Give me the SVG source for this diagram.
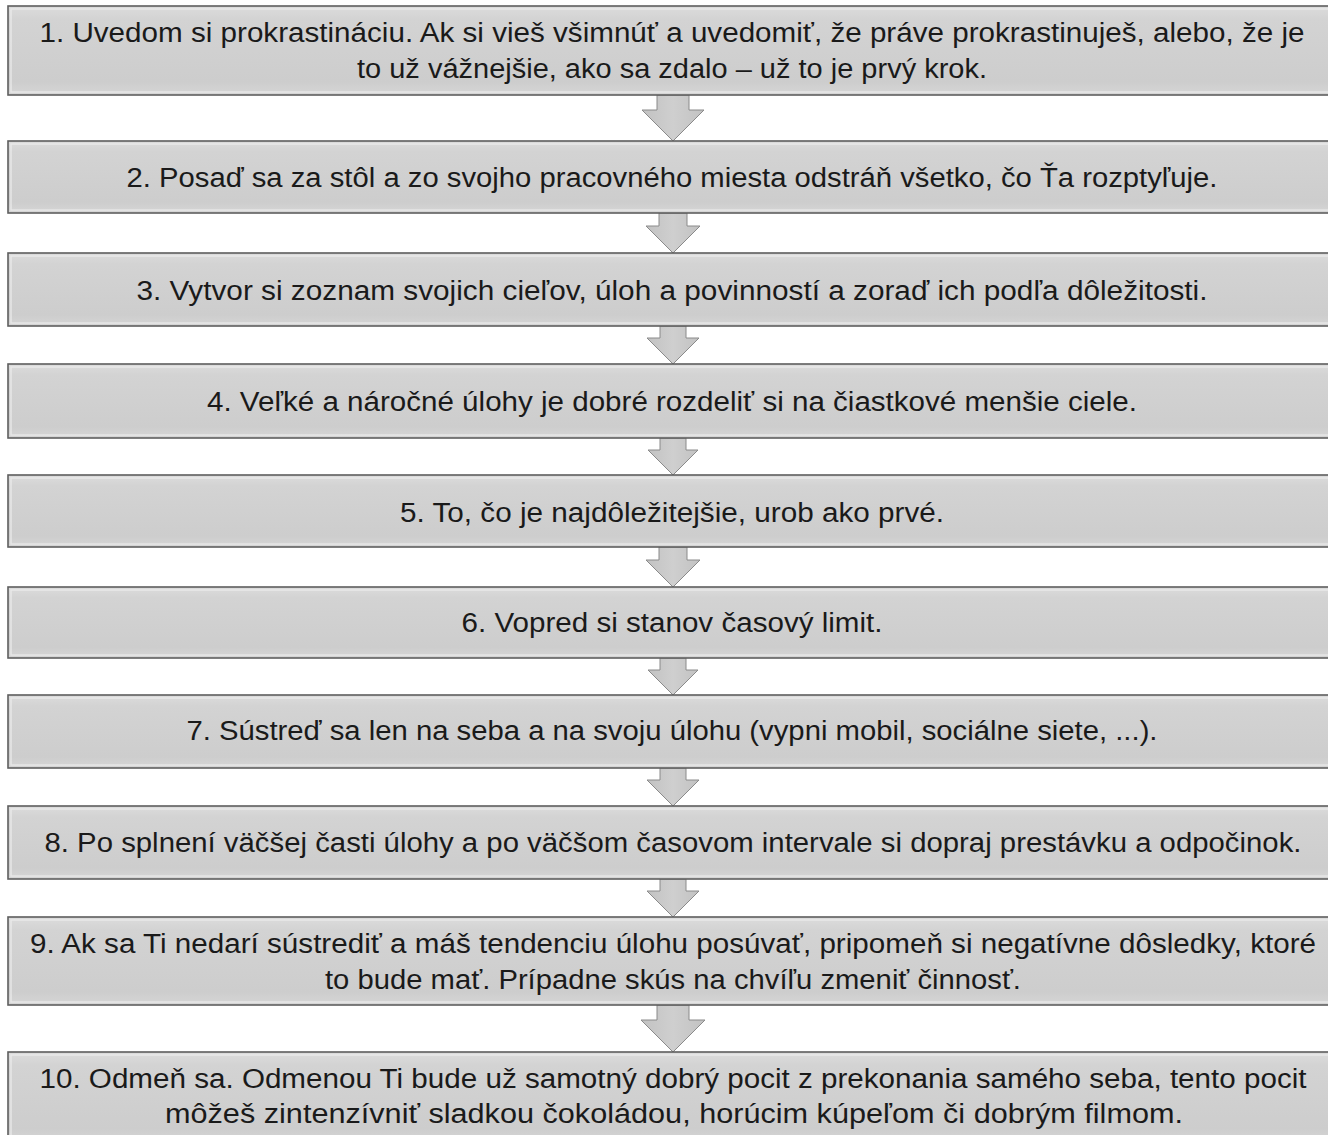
<svg xmlns="http://www.w3.org/2000/svg" width="1328" height="1135" viewBox="0 0 1328 1135">
<defs>
<linearGradient id="boxg" x1="0" y1="0" x2="0" y2="1">
<stop offset="0" stop-color="#dcdcdc"/>
<stop offset="0.15" stop-color="#d3d3d3"/>
<stop offset="0.85" stop-color="#cdcdcd"/>
<stop offset="1" stop-color="#d6d6d6"/>
</linearGradient>
<linearGradient id="arrg" x1="0" y1="0" x2="1" y2="0">
<stop offset="0" stop-color="#c2c2c2"/>
<stop offset="0.5" stop-color="#cfcfcf"/>
<stop offset="1" stop-color="#c2c2c2"/>
</linearGradient>
</defs>
<style>
.box{fill:url(#boxg);stroke:#5e5e5e;stroke-width:1.6}
.inner{fill:none;stroke:#ececec;stroke-width:1.5;opacity:0.8}
.arr{fill:url(#arrg);stroke:#8a8a8a;stroke-width:1}
.t{font-family:"Liberation Sans",Arial,sans-serif;font-size:27px;fill:#1a1a1a;text-anchor:middle}
</style>
<rect width="1328" height="1135" fill="#ffffff"/>
<g id="connectors">
<path class="arr" d="M657,95 L689,95 L689,110 L704,110 L673,141 L642,110 L657,110 Z"/>
<path class="arr" d="M659,213 L687,213 L687,226 L700,226 L673,253 L646,226 L659,226 Z"/>
<path class="arr" d="M660,326 L686,326 L686,338 L699,338 L673,364 L647,338 L660,338 Z"/>
<path class="arr" d="M660,438 L686,438 L686,450 L698,450 L673,475 L648,450 L660,450 Z"/>
<path class="arr" d="M659,547 L687,547 L687,560 L700,560 L673,587 L646,560 L659,560 Z"/>
<path class="arr" d="M660,658 L686,658 L686,670 L698,670 L673,695 L648,670 L660,670 Z"/>
<path class="arr" d="M660,768 L686,768 L686,780 L699,780 L673,806 L647,780 L660,780 Z"/>
<path class="arr" d="M660,879 L686,879 L686,891 L699,891 L673,917 L647,891 L660,891 Z"/>
<path class="arr" d="M657,1005 L689,1005 L689,1020 L705,1020 L673,1052 L641,1020 L657,1020 Z"/>
</g>
<g id="node1">
<rect class="box" x="8" y="6" width="1330" height="89"/>
<rect class="inner" x="11" y="9" width="1330" height="83"/>
<text class="t" x="672" y="42" textLength="1265" lengthAdjust="spacingAndGlyphs">1. Uvedom si prokrastináciu. Ak si vieš všimnúť a uvedomiť, že práve prokrastinuješ, alebo, že je</text>
<text class="t" x="672" y="78" textLength="630" lengthAdjust="spacingAndGlyphs">to už vážnejšie, ako sa zdalo – už to je prvý krok.</text>
</g>
<g id="node2">
<rect class="box" x="8" y="141" width="1330" height="72"/>
<rect class="inner" x="11" y="144" width="1330" height="66"/>
<text class="t" x="672" y="187" textLength="1091" lengthAdjust="spacingAndGlyphs">2. Posaď sa za stôl a zo svojho pracovného miesta odstráň všetko, čo Ťa rozptyľuje.</text>
</g>
<g id="node3">
<rect class="box" x="8" y="253" width="1330" height="73"/>
<rect class="inner" x="11" y="256" width="1330" height="67"/>
<text class="t" x="672" y="300" textLength="1071" lengthAdjust="spacingAndGlyphs">3. Vytvor si zoznam svojich cieľov, úloh a povinností a zoraď ich podľa dôležitosti.</text>
</g>
<g id="node4">
<rect class="box" x="8" y="364" width="1330" height="74"/>
<rect class="inner" x="11" y="367" width="1330" height="68"/>
<text class="t" x="672" y="411" textLength="930" lengthAdjust="spacingAndGlyphs">4. Veľké a náročné úlohy je dobré rozdeliť si na čiastkové menšie ciele.</text>
</g>
<g id="node5">
<rect class="box" x="8" y="475" width="1330" height="72"/>
<rect class="inner" x="11" y="478" width="1330" height="66"/>
<text class="t" x="672" y="522" textLength="544" lengthAdjust="spacingAndGlyphs">5. To, čo je najdôležitejšie, urob ako prvé.</text>
</g>
<g id="node6">
<rect class="box" x="8" y="587" width="1330" height="71"/>
<rect class="inner" x="11" y="590" width="1330" height="65"/>
<text class="t" x="672" y="632" textLength="421" lengthAdjust="spacingAndGlyphs">6. Vopred si stanov časový limit.</text>
</g>
<g id="node7">
<rect class="box" x="8" y="695" width="1330" height="73"/>
<rect class="inner" x="11" y="698" width="1330" height="67"/>
<text class="t" x="672" y="740" textLength="971" lengthAdjust="spacingAndGlyphs">7. Sústreď sa len na seba a na svoju úlohu (vypni mobil, sociálne siete, ...).</text>
</g>
<g id="node8">
<rect class="box" x="8" y="806" width="1330" height="73"/>
<rect class="inner" x="11" y="809" width="1330" height="67"/>
<text class="t" x="673" y="852" textLength="1257" lengthAdjust="spacingAndGlyphs">8. Po splnení väčšej časti úlohy a po väčšom časovom intervale si dopraj prestávku a odpočinok.</text>
</g>
<g id="node9">
<rect class="box" x="8" y="917" width="1330" height="88"/>
<rect class="inner" x="11" y="920" width="1330" height="82"/>
<text class="t" x="673" y="953" textLength="1286" lengthAdjust="spacingAndGlyphs">9. Ak sa Ti nedarí sústrediť a máš tendenciu úlohu posúvať, pripomeň si negatívne dôsledky, ktoré</text>
<text class="t" x="673" y="989" textLength="696" lengthAdjust="spacingAndGlyphs">to bude mať. Prípadne skús na chvíľu zmeniť činnosť.</text>
</g>
<g id="node10">
<rect class="box" x="8" y="1052" width="1330" height="90"/>
<rect class="inner" x="11" y="1055" width="1330" height="84"/>
<text class="t" x="673" y="1088" textLength="1267" lengthAdjust="spacingAndGlyphs">10. Odmeň sa. Odmenou Ti bude už samotný dobrý pocit z prekonania samého seba, tento pocit</text>
<text class="t" x="674" y="1123" textLength="1018" lengthAdjust="spacingAndGlyphs">môžeš zintenzívniť sladkou čokoládou, horúcim kúpeľom či dobrým filmom.</text>
</g>
</svg>
